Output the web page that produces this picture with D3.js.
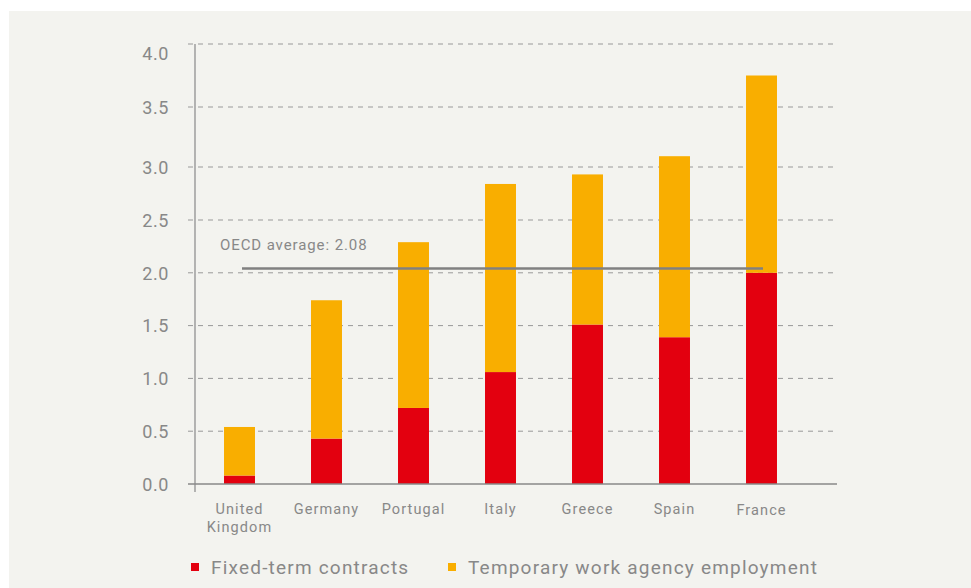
<!DOCTYPE html>
<html>
<head>
<meta charset="utf-8">
<script src="https://cdn.jsdelivr.net/npm/d3@7"></script>
<style>
  body { margin: 0; background: #fff; }
  text { font-family: Roboto, "Open Sans", sans-serif; fill: #888; }
</style>
</head>
<body>
<svg id="chart"></svg>
<script>
// data
const countries = ["United Kingdom", "Germany", "Portugal", "Italy", "Greece", "Spain", "France"];
const fixedTerm = [0.08, 0.43, 0.72, 1.06, 1.51, 1.39, 2.00];
const agency    = [0.46, 1.31, 1.57, 1.78, 1.42, 1.70, 1.75];
const yTicks = [0, 0.5, 1.0, 1.5, 2.0, 2.5, 3.0, 3.5, 4.0];
const oecdLabel = "OECD average: 2.08";
const oecdLine = 2.04;
const seriesNames = ["Fixed-term contracts", "Temporary work agency employment"];

// size
const width = 971;
const height = 588;

const colors = ["#e3000f", "#f9ae00"];

const svg = d3.select("#chart")
    .attr("width", width)
    .attr("height", height);

// panel
svg.append("rect")
    .attr("x", 9).attr("y", 11)
    .attr("width", width - 9).attr("height", height - 11)
    .attr("fill", "#f3f3ef");

// scales (the original's y spacing stretches slightly at the top)
const y = d3.scaleLinear()
    .domain([0, 2.5, 3, 3.5, 4])
    .range([484, 220, 167, 107, 44]);

const x = d3.scaleBand()
    .domain(countries)
    .range([196, 805])
    .paddingInner(0.644)
    .paddingOuter(0.322);

// grid
svg.append("g")
    .selectAll("line")
    .data(yTicks.filter(d => d > 0))
    .enter()
    .append("line")
    .attr("x1", 188).attr("x2", 836)
    .attr("y1", d => y(d)).attr("y2", d => y(d))
    .attr("stroke", "#999")
    .attr("stroke-width", 1)
    .attr("stroke-dasharray", "5,5");

// y axis
const yAxis = d3.axisLeft(y)
    .tickValues(yTicks)
    .tickFormat(d3.format(".1f"))
    .tickSize(0)
    .tickPadding(26);
const gy = svg.append("g")
    .attr("transform", "translate(195,0)")
    .call(yAxis);
gy.select(".domain").remove();
gy.selectAll("text")
    .style("font-size", "18px")
    .style("letter-spacing", "0.6px")
    .attr("fill", "#888")
    .attr("dy", d => d === 4 ? "0.85em" : "0.35em");
svg.append("line")
    .attr("x1", 195).attr("x2", 195)
    .attr("y1", y(4)).attr("y2", 492)
    .attr("stroke", "#888").attr("stroke-width", 1.2);

// stacked bars
const rows = countries.map((c, i) => ({ country: c, fixed: fixedTerm[i], agency: agency[i] }));
const stack = d3.stack().keys(["fixed", "agency"])(rows);

svg.append("g")
    .selectAll("g")
    .data(stack)
    .enter()
    .append("g")
    .attr("fill", (d, i) => colors[i])
    .selectAll("rect")
    .data(d => d)
    .enter()
    .append("rect")
    .attr("x", d => x(d.data.country))
    .attr("width", x.bandwidth())
    .attr("y", d => y(d[1]))
    .attr("height", d => y(d[0]) - y(d[1]));

// baseline
svg.append("line")
    .attr("x1", 188).attr("x2", 837)
    .attr("y1", y(0)).attr("y2", y(0))
    .attr("stroke", "#888").attr("stroke-width", 1.5);

// x labels
const xl = svg.append("g")
    .selectAll("text")
    .data(countries)
    .enter()
    .append("text")
    .attr("text-anchor", "middle")
    .attr("x", d => x(d) + x.bandwidth() / 2)
    .attr("y", d => d === "France" ? 515 : 514)
    .style("font-size", "14.5px")
    .style("letter-spacing", "1.1px");
xl.each(function(d) {
    const words = d.split(" ");
    const t = d3.select(this);
    words.forEach((w, i) => {
        t.append("tspan")
            .attr("x", x(d) + x.bandwidth() / 2)
            .attr("dy", i === 0 ? 0 : 18)
            .text(w);
    });
});

// OECD average line
svg.append("line")
    .attr("x1", 242).attr("x2", 763)
    .attr("y1", y(oecdLine)).attr("y2", y(oecdLine))
    .attr("stroke", "#808080").attr("stroke-width", 2.5);
svg.append("text")
    .attr("x", 220).attr("y", 250)
    .style("font-size", "15px")
    .style("letter-spacing", "0.9px")
    .text(oecdLabel);

// legend
const legendX = [191, 448];
const legend = svg.append("g")
    .selectAll("g")
    .data(seriesNames)
    .enter()
    .append("g")
    .attr("transform", (d, i) => `translate(${legendX[i]},563)`);
legend.append("rect")
    .attr("width", 8).attr("height", 8)
    .attr("fill", (d, i) => colors[i]);
legend.append("text")
    .attr("x", 20).attr("y", 11)
    .style("font-size", "19px")
    .style("letter-spacing", "1.2px")
    .text(d => d);
</script>
</body>
</html>
